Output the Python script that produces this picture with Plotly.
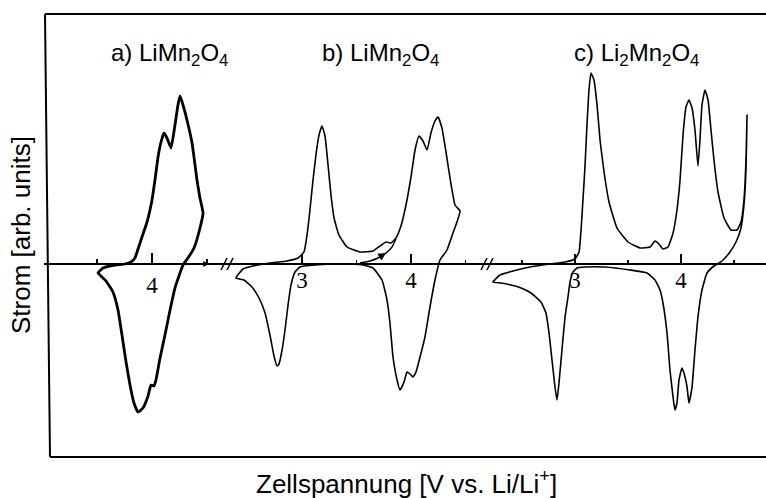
import plotly.graph_objects as go

# ---------------------------------------------------------------
# Cyclic voltammograms, current in arbitrary units, voltage in V vs Li/Li+
# ---------------------------------------------------------------

# a) LiMn2O4, 3.5 - 4.5 V window (anodic sweep then cathodic sweep)
volt_a = [3.509, 3.555, 3.664, 3.755, 3.809, 3.845, 3.873, 3.909, 3.955, 4.000,
          4.027, 4.055, 4.082, 4.109, 4.136, 4.173, 4.209, 4.236, 4.255, 4.282,
          4.318, 4.364, 4.409, 4.436, 4.464,
          4.427, 4.382, 4.327, 4.282, 4.245, 4.209, 4.164, 4.118, 4.073, 4.036,
          4.018, 3.991, 3.964, 3.918, 3.873, 3.836, 3.800, 3.764, 3.727, 3.691,
          3.645, 3.582, 3.527, 3.509]
curr_a = [-0.09, -0.04, -0.01, 0.00, 0.02, 0.06, 0.15, 0.27, 0.42, 0.64,
          0.84, 1.07, 1.22, 1.31, 1.26, 1.16, 1.39, 1.59, 1.68, 1.59,
          1.44, 1.21, 0.84, 0.66, 0.51,
          0.32, 0.16, 0.06, -0.01, -0.12, -0.24, -0.46, -0.71, -0.94, -1.16,
          -1.22, -1.21, -1.32, -1.44, -1.48, -1.39, -1.21, -0.98, -0.71, -0.46,
          -0.28, -0.17, -0.11, -0.09]

# b) LiMn2O4, 2.4 - 4.45 V window
volt_b = [2.394, 2.459, 2.550, 2.706, 2.862, 2.963, 3.018, 3.046, 3.073, 3.101,
          3.128, 3.156, 3.183, 3.211, 3.239, 3.266, 3.294, 3.339, 3.413, 3.532,
          3.651, 3.716, 3.771, 3.817, 3.862, 3.908, 3.954, 4.000, 4.037, 4.073,
          4.110, 4.147, 4.183, 4.220, 4.248, 4.284, 4.321, 4.358, 4.404, 4.450,
          4.422, 4.385, 4.330, 4.266, 4.220, 4.174, 4.128, 4.083, 4.046, 4.018,
          3.991, 3.963, 3.936, 3.899, 3.872, 3.835, 3.807, 3.780, 3.734, 3.651,
          3.560, 3.349, 3.119, 2.982, 2.936, 2.899, 2.872, 2.844, 2.817, 2.789,
          2.771, 2.743, 2.706, 2.661, 2.606, 2.541, 2.468, 2.394]
curr_b = [-0.14, -0.05, -0.02, 0.01, 0.03, 0.06, 0.12, 0.29, 0.54, 0.84,
          1.09, 1.29, 1.38, 1.28, 0.99, 0.69, 0.46, 0.29, 0.17, 0.12,
          0.13, 0.18, 0.22, 0.21, 0.26, 0.38, 0.59, 0.87, 1.14, 1.28,
          1.23, 1.14, 1.31, 1.43, 1.47, 1.36, 1.12, 0.86, 0.59, 0.53,
          0.42, 0.31, 0.14, 0.04, -0.16, -0.43, -0.73, -0.93, -1.08, -1.13,
          -1.10, -1.08, -1.18, -1.26, -1.16, -0.93, -0.59, -0.36, -0.16, -0.04,
          -0.01, 0.00, -0.01, -0.03, -0.08, -0.21, -0.41, -0.66, -0.86, -1.00,
          -1.02, -0.92, -0.71, -0.49, -0.34, -0.23, -0.16, -0.14]

# first anodic scan in b), starting from the rest potential
volt_b_start = [3.532, 3.624, 3.697, 3.771, 3.826, 3.862]
curr_b_start = [0.01, 0.03, 0.06, 0.11, 0.17, 0.25]

# c) Li2Mn2O4, 2.2 - 4.6 V window
volt_c = [2.226, 2.292, 2.415, 2.575, 2.764, 2.906, 3.000, 3.038, 3.057, 3.075,
          3.094, 3.113, 3.132, 3.151, 3.179, 3.208, 3.236, 3.274, 3.321, 3.396,
          3.500, 3.613, 3.708, 3.755, 3.792, 3.830, 3.877, 3.925, 3.962, 3.991,
          4.019, 4.047, 4.075, 4.104, 4.132, 4.160, 4.179, 4.198, 4.226, 4.255,
          4.283, 4.311, 4.349, 4.406, 4.472, 4.528, 4.566, 4.594, 4.613, 4.623,
          4.613, 4.594, 4.566, 4.519, 4.462, 4.387, 4.311, 4.245, 4.198, 4.160,
          4.132, 4.104, 4.075, 4.057, 4.028, 4.009, 3.981, 3.962, 3.943, 3.925,
          3.896, 3.868, 3.830, 3.802, 3.755, 3.679, 3.519, 3.283, 3.094, 3.019,
          2.981, 2.953, 2.934, 2.906, 2.877, 2.849, 2.830, 2.811, 2.783, 2.755,
          2.726, 2.679, 2.585, 2.491, 2.396, 2.302, 2.226]
curr_c = [-0.18, -0.11, -0.07, -0.03, 0.00, 0.02, 0.05, 0.12, 0.34, 0.64,
          0.97, 1.39, 1.74, 1.91, 1.84, 1.59, 1.24, 0.92, 0.62, 0.36,
          0.22, 0.16, 0.17, 0.23, 0.20, 0.15, 0.17, 0.31, 0.54, 0.84,
          1.29, 1.57, 1.64, 1.56, 1.34, 0.98, 1.24, 1.59, 1.74, 1.64,
          1.34, 1.04, 0.72, 0.46, 0.34, 0.34, 0.42, 0.64, 1.04, 1.49,
          0.94, 0.59, 0.36, 0.22, 0.12, 0.03, -0.02, -0.09, -0.26, -0.53,
          -0.86, -1.23, -1.39, -1.23, -1.09, -1.04, -1.16, -1.39, -1.46, -1.33,
          -1.06, -0.69, -0.39, -0.26, -0.16, -0.09, -0.06, -0.03, -0.03, -0.04,
          -0.08, -0.18, -0.33, -0.53, -0.86, -1.19, -1.36, -1.23, -0.96, -0.69,
          -0.49, -0.38, -0.29, -0.24, -0.21, -0.19, -0.18]

# tick values per panel (major with labels, minor without)
ticks_a, minor_a = [4], [3.5, 4.5]
ticks_b, minor_b = [3, 4], [3.5, 4.5]
ticks_c, minor_c = [3, 4], [2.5, 3.5, 4.5]

titles = ["a) LiMn<sub>2</sub>O<sub>4</sub>",
          "b) LiMn<sub>2</sub>O<sub>4</sub>",
          "c) Li<sub>2</sub>Mn<sub>2</sub>O<sub>4</sub>"]

# ---------------------------------------------------------------
# page geometry (pixels)
W, H = 766, 498
FRAME_L_TOP, FRAME_L_BOT = 45, 50
FRAME_T, FRAME_B = 14, 457
BASE_Y = 264            # zero-current line
PX_PER_UNIT = 100.0     # vertical scale of the current axis
# each broken voltage axis: (reference voltage, its pixel position, pixels per volt)
calib = [(4.0, 152, 110.0), (3.0, 302, 109.0), (3.0, 575, 106.0)]
AX_L = 44


def pxx(px):
    return px / W


def pxy(py):
    return 1 - py / H


fig = go.Figure()

line_w = [2.8, 1.6, 1.6]
panel_data = [(volt_a, curr_a), (volt_b, curr_b), (volt_c, curr_c)]
axis_ids = ["x", "x2", "x3"]
for (v, i), ax, lw in zip(panel_data, axis_ids, line_w):
    fig.add_trace(go.Scatter(
        x=v, y=i, xaxis=ax, yaxis="y", mode="lines",
        line=dict(color="black", width=lw, shape="spline", smoothing=0.4),
        hoverinfo="skip", showlegend=False))

fig.add_trace(go.Scatter(
    x=volt_b_start, y=curr_b_start, xaxis="x2", yaxis="y", mode="lines",
    line=dict(color="black", width=1.4, shape="spline", smoothing=0.4),
    hoverinfo="skip", showlegend=False))

tick_sets = [(ticks_a, minor_a), (ticks_b, minor_b), (ticks_c, minor_c)]
layout_axes = {}
for k, ((v0, p0, ppv), (major, minor)) in enumerate(zip(calib, tick_sets)):
    rng = [v0 + (AX_L - p0) / ppv, v0 + (W - p0) / ppv]
    ax = dict(
        domain=[AX_L / W, 1], range=rng, anchor="free", position=pxy(BASE_Y),
        showline=(k == 0), linecolor="black", linewidth=2.2,
        showgrid=False, zeroline=False,
        ticks="inside", ticklen=10, tickwidth=1.6, tickcolor="black",
        tickvals=major, ticktext=[str(t) for t in major],
        tickfont=dict(family="Liberation Serif", size=23, color="black"),
        minor=dict(tickvals=minor, ticks="inside", ticklen=4, tickwidth=1.4,
                   tickcolor="black", showgrid=False),
    )
    if k > 0:
        ax["overlaying"] = "x"
    layout_axes["xaxis" if k == 0 else f"xaxis{k + 1}"] = ax

fig.update_layout(
    width=W, height=H, margin=dict(l=0, r=0, t=0, b=0),
    paper_bgcolor="white", plot_bgcolor="white",
    yaxis=dict(domain=[0, 1], range=[(BASE_Y - H) / PX_PER_UNIT, BASE_Y / PX_PER_UNIT],
               visible=False, fixedrange=True),
    hovermode=False,
    **layout_axes,
)

# frame of the figure box (open on the right)
frame = [
    (FRAME_L_TOP, FRAME_T, FRAME_L_BOT, FRAME_B),
    (FRAME_L_TOP, FRAME_T, W, FRAME_T),
    (FRAME_L_BOT, FRAME_B, W, FRAME_B),
]
for x0, y0, x1, y1 in frame:
    fig.add_shape(type="line", xref="paper", yref="paper",
                  x0=pxx(x0), y0=pxy(y0), x1=pxx(x1), y1=pxy(y1),
                  line=dict(color="black", width=2))

# axis-break marks between the panels
for bx in (227, 487):
    for dx in (-3, 3):
        fig.add_shape(type="line", xref="paper", yref="paper",
                      x0=pxx(bx + dx - 3), y0=pxy(BASE_Y + 6),
                      x1=pxx(bx + dx + 3), y1=pxy(BASE_Y - 6),
                      line=dict(color="black", width=1.6))

# scan direction arrows
fig.add_annotation(x=volt_b_start[3], y=curr_b_start[3], xref="x2", yref="y",
                   ax=volt_b_start[2], ay=curr_b_start[2], axref="x2", ayref="y",
                   showarrow=True, arrowhead=2, arrowsize=1.2, arrowwidth=1.3,
                   arrowcolor="black", text="")
fig.add_annotation(x=4.52, y=0.0, xref="x", yref="y",
                   ax=4.42, ay=0.0, axref="x", ayref="y",
                   showarrow=True, arrowhead=2, arrowsize=1.0, arrowwidth=1.2,
                   arrowcolor="black", text="")

# panel titles
title_pos = [(169, 54), (380, 54), (636, 54)]
for t, (tx, ty) in zip(titles, title_pos):
    fig.add_annotation(text=t, x=pxx(tx), y=pxy(ty), xref="paper", yref="paper",
                       showarrow=False, xanchor="center", yanchor="middle",
                       font=dict(family="Liberation Sans", size=24, color="black"))

# axis titles
fig.add_annotation(text="Zellspannung [V vs. Li/Li<sup>+</sup>]",
                   x=pxx(406), y=pxy(482), xref="paper", yref="paper",
                   showarrow=False, xanchor="center", yanchor="middle",
                   font=dict(family="Liberation Sans", size=26, color="black"))
fig.add_annotation(text="Strom [arb. units]", textangle=-90,
                   x=pxx(21), y=pxy(235), xref="paper", yref="paper",
                   showarrow=False, xanchor="center", yanchor="middle",
                   font=dict(family="Liberation Sans", size=26, color="black"))

fig.write_html("out.html", config={"displayModeBar": False, "staticPlot": True})
